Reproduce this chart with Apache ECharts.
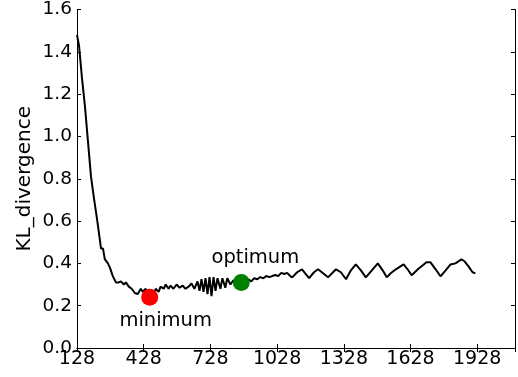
<!DOCTYPE html>
<html>
<head>
<meta charset="utf-8">
<script src="https://cdn.jsdelivr.net/npm/echarts@6/dist/echarts.min.js"></script>
<style>
  html, body { margin: 0; padding: 0; background: #fff; }
  #main { width: 518px; height: 377px; }
</style>
</head>
<body>
<div id="main"></div>
<script>
// sample sizes (x) and KL divergence (y)
const sampleSizes = [
  128, 137, 150, 164, 177, 191, 204, 218, 231, 236, 245, 253, 267, 276, 289,
  303, 316, 325, 339, 348, 361, 374, 388, 401, 415, 424, 437, 446, 455, 464,
  473, 482, 495, 504, 518, 527, 540, 549, 562, 576, 589, 603, 616, 630, 643,
  656, 670, 679, 688, 697, 706, 715, 724, 733, 742, 751, 760, 773, 782, 795,
  804, 818, 831, 845, 858, 872, 885, 898, 912, 925, 939, 952, 966, 979, 993,
  1006, 1020, 1033, 1047, 1060, 1073, 1087, 1096, 1118, 1140, 1158, 1172, 1194, 1212, 1235,
  1257, 1275, 1293, 1315, 1338, 1360, 1382, 1405, 1427, 1454, 1481, 1503, 1521, 1539, 1562,
  1597, 1615, 1633, 1665, 1700, 1718, 1741, 1763, 1786, 1808, 1830, 1857, 1871, 1889, 1907,
  1920
];
const klValues = [
  1.48, 1.43, 1.28, 1.14, 0.98, 0.81, 0.71, 0.61, 0.51, 0.47, 0.47, 0.42, 0.40, 0.38, 0.34,
  0.31, 0.31, 0.315, 0.30, 0.31, 0.29, 0.28, 0.26, 0.255, 0.28, 0.265, 0.28, 0.255, 0.24, 0.275,
  0.25, 0.28, 0.265, 0.29, 0.28, 0.30, 0.28, 0.295, 0.28, 0.30, 0.285, 0.295, 0.28, 0.29, 0.305,
  0.28, 0.315, 0.27, 0.325, 0.265, 0.33, 0.255, 0.335, 0.245, 0.335, 0.27, 0.33, 0.28, 0.33, 0.285,
  0.33, 0.30, 0.32, 0.30, 0.315, 0.305, 0.32, 0.325, 0.315, 0.33, 0.325, 0.335, 0.33, 0.34, 0.335,
  0.34, 0.345, 0.34, 0.355, 0.35, 0.355, 0.34, 0.334, 0.358, 0.372, 0.348, 0.33, 0.358, 0.372, 0.353,
  0.334, 0.353, 0.372, 0.358, 0.325, 0.367, 0.395, 0.367, 0.334, 0.367, 0.40, 0.367, 0.334, 0.353, 0.372,
  0.395, 0.372, 0.344, 0.376, 0.405, 0.405, 0.372, 0.339, 0.367, 0.395, 0.40, 0.419, 0.41, 0.386, 0.358,
  0.353
];
const minimumPoint = [455, 0.24];
const optimumPoint = [867, 0.31];
const xTicks = [128, 428, 728, 1028, 1328, 1628, 1928];

const chart = echarts.init(document.getElementById("main"));

const font = "DejaVu Sans";
const xRange = { min: 128, max: 2098, interval: 300 };
const yRange = { min: 0, max: 1.6, interval: 0.2 };

const boxAxis = {
  axisLine: { show: true, lineStyle: { color: "#000", width: 1 } },
  axisTick: { show: true, inside: true, length: 4, lineStyle: { color: "#000" } },
  splitLine: { show: false },
};

const options = {
  backgroundColor: "#fff",
  animation: false,
  grid: { left: 77, right: 1.5, top: 8, bottom: 29 },
  xAxis: [
    {
      type: "value",
      ...xRange,
      ...boxAxis,
      axisLabel: {
        color: "#000",
        fontFamily: font,
        fontSize: 19,
        margin: 2,
        formatter(v) {
          return xTicks.includes(v) ? String(v) : "";
        },
      },
    },
    {
      type: "value",
      position: "top",
      ...xRange,
      ...boxAxis,
      axisLabel: { show: false },
    },
  ],
  yAxis: [
    {
      type: "value",
      ...yRange,
      ...boxAxis,
      name: "KL_divergence",
      nameLocation: "middle",
      nameGap: 42,
      nameMoveOverlap: false,
      nameTextStyle: { color: "#000", fontFamily: font, fontSize: 20 },
      axisLabel: {
        color: "#000",
        fontFamily: font,
        fontSize: 18.5,
        margin: 5,
        formatter(v) {
          return v.toFixed(1);
        },
      },
    },
    {
      type: "value",
      position: "right",
      ...yRange,
      ...boxAxis,
      axisLabel: { show: false },
    },
  ],
  series: [
    {
      type: "line",
      data: sampleSizes.map((x, i) => [x, klValues[i]]),
      showSymbol: false,
      lineStyle: { color: "#000", width: 2 },
      z: 2,
    },
    {
      type: "scatter",
      data: [minimumPoint],
      symbolSize: 17,
      itemStyle: { color: "#ff0000", opacity: 1 },
      label: {
        show: true,
        formatter: "minimum",
        position: "bottom",
        offset: [16, 0],
        color: "#000",
        fontFamily: font,
        fontSize: 19.5,
      },
      z: 3,
    },
    {
      type: "scatter",
      data: [optimumPoint],
      symbolSize: 17,
      itemStyle: { color: "#008000", opacity: 1 },
      label: {
        show: true,
        formatter: "optimum",
        position: "top",
        offset: [14, -1],
        color: "#000",
        fontFamily: font,
        fontSize: 19.5,
      },
      z: 3,
    },
  ],
};

chart.setOption(options);
</script>
</body>
</html>
